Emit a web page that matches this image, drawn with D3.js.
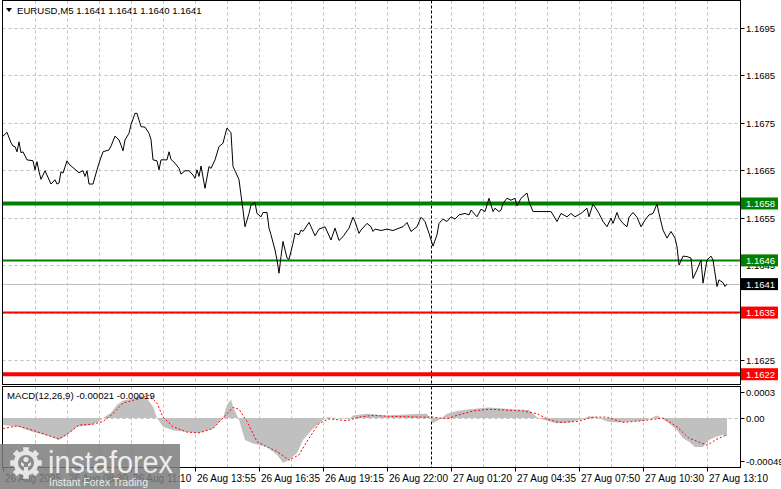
<!DOCTYPE html>
<html><head><meta charset="utf-8">
<script src="https://cdn.jsdelivr.net/npm/d3@7"></script>
<style>body{margin:0;background:#fff}svg{display:block}text{font-family:"Liberation Sans",Arial,sans-serif}</style>
</head><body><svg id="c" width="781" height="489"></svg>
<script>
// ---- data (bar index on M5 chart, close price) ----
const priceIdx=[0,2,4,5,6,7,8,9,10,12,15,16,17,18,19,21,24,26,27,28,29,30,32,33,36,38,40,41,42,43,45,47,48,50,53,54,56,58,59,60,61,63,64,66,67,69,71,73,74,75,77,78,79,82,83,84,86,88,89,91,93,95,96,97,98,99,101,103,104,106,108,110,111,112,114,115,117,118,120,121,123,124,126,127,129,130,132,133,134,136,137,138,139,140,142,143,145,146,148,149,150,153,154,156,158,161,164,166,168,170,173,175,176,178,179,182,184,185,186,189,192,195,198,200,202,204,207,209,211,213,215,217,218,220,222,224,226,228,231,233,234,237,239,241,243,245,246,248,249,250,252,254,256,257,259,262,263,265,268,274,277,279,282,284,286,289,292,293,295,297,298,300,302,304,305,307,308,310,312,313,315,317,319,321,323,325,327,328,330,332,334,336,337,338,340,342,344,345,347,349,350,352,354,355,357,358,360,361,362];
const priceClose=[1.16722,1.16730,1.16708,1.16701,1.16700,1.16689,1.16710,1.16687,1.16689,1.16672,1.16670,1.16651,1.16668,1.16647,1.16631,1.16649,1.16621,1.16630,1.16621,1.16623,1.16647,1.16644,1.16670,1.16663,1.16652,1.16645,1.16649,1.16637,1.16649,1.16621,1.16621,1.16651,1.16665,1.16689,1.16693,1.16701,1.16722,1.16714,1.16703,1.16691,1.16714,1.16728,1.16746,1.16770,1.16770,1.16742,1.16741,1.16728,1.16715,1.16672,1.16670,1.16651,1.16672,1.16672,1.16689,1.16673,1.16665,1.16654,1.16642,1.16649,1.16649,1.16640,1.16633,1.16651,1.16637,1.16659,1.16612,1.16658,1.16654,1.16672,1.16700,1.16707,1.16724,1.16739,1.16729,1.16658,1.16640,1.16630,1.16566,1.16531,1.16559,1.16577,1.16582,1.16559,1.16552,1.16561,1.16561,1.16528,1.16514,1.16482,1.16461,1.16433,1.16468,1.16500,1.16465,1.16462,1.16496,1.16517,1.16514,1.16524,1.16521,1.16540,1.16531,1.16512,1.16526,1.16531,1.16503,1.16528,1.16502,1.16510,1.16528,1.16551,1.16542,1.16517,1.16524,1.16538,1.16531,1.16521,1.16526,1.16523,1.16526,1.16523,1.16528,1.16531,1.16540,1.16521,1.16531,1.16551,1.16542,1.16517,1.16490,1.16514,1.16538,1.16547,1.16542,1.16552,1.16547,1.16556,1.16559,1.16556,1.16566,1.16552,1.16568,1.16563,1.16591,1.16563,1.16570,1.16563,1.16566,1.16580,1.16591,1.16587,1.16591,1.16575,1.16591,1.16602,1.16584,1.16563,1.16563,1.16563,1.16542,1.16559,1.16552,1.16559,1.16552,1.16559,1.16570,1.16552,1.16579,1.16566,1.16559,1.16542,1.16531,1.16549,1.16538,1.16561,1.16549,1.16538,1.16531,1.16551,1.16561,1.16551,1.16531,1.16545,1.16556,1.16559,1.16579,1.16559,1.16524,1.16507,1.16521,1.16507,1.16489,1.16450,1.16469,1.16468,1.16465,1.16422,1.16440,1.16461,1.16412,1.16461,1.16469,1.16461,1.16405,1.16419,1.16413,1.16405,1.16410];

const macdIdx=[0,8,15,24,28,32,37,44,48,50,54,57,60,65,68,72,75,77,80,85,92,98,105,110,112,114,115,117,118,121,125,132,137,140,143,147,150,155,160,162,173,175,182,192,208,212,215,218,222,227,233,243,248,263,267,270,277,283,290,293,297,302,307,313,320,325,327,329,333,337,340,343,346,350,353,357,360,362];
const macdVal=[-0.00008,-0.00010,-0.00016,-0.00021,-0.00025,-0.00019,-0.00010,-0.00008,-0.00004,0,0.00006,0.00015,0.00020,0.00022,0.00026,0.00022,0.00013,0,-0.00010,-0.00014,-0.00016,-0.00017,-0.00012,0,0.00015,0.00021,0.00013,0.00003,-0.00002,-0.00025,-0.00029,-0.00033,-0.00042,-0.00051,-0.00048,-0.00040,-0.00025,-0.00012,-0.00002,0.00001,-0.00001,0.00003,0.00005,0.00003,0.00005,0.00005,-0.00006,-0.00002,0.00005,0.00008,0.00010,0.00012,0.00011,0.00009,0.00001,-0.00002,-0.00006,-0.00005,-0.00001,0.00002,0.00001,-0.00004,-0.00005,-0.00004,-0.00003,0.00001,0.00003,0,-0.00006,-0.00014,-0.00023,-0.00027,-0.00033,-0.00033,-0.00025,-0.00021,-0.00019,-0.00021];
const signalIdx=[0,7,15,24,28,33,38,45,50,55,60,68,73,77,80,85,92,98,105,110,115,118,122,127,132,137,143,148,153,158,163,172,178,185,192,210,215,222,227,235,243,260,267,273,278,287,295,302,310,320,330,337,343,352,357,362];
const signalVal=[-0.00012,-0.00009,-0.00014,-0.00021,-0.00024,-0.00017,-0.00008,-0.00007,-0.00004,0.00005,0.00017,0.00022,0.00026,0.00017,0.00001,-0.00010,-0.00016,-0.00017,-0.00012,0,0.00012,0.00010,-0.00004,-0.00027,-0.00033,-0.00038,-0.00048,-0.00042,-0.00023,-0.00006,-0.00001,-0.00003,0.00001,0.00003,0.00002,0.00001,0.00001,-0.00001,0.00003,0.00008,0.00010,0.00008,0.00005,-0.00002,-0.00005,-0.00004,0.00001,0.00001,-0.00005,-0.00003,0,-0.00010,-0.00023,-0.00031,-0.00024,-0.00019];

const timeLabels=["26 Aug 2025","26 Aug 08:30","26 Aug 11:10","26 Aug 13:55","26 Aug 16:35","26 Aug 19:15","26 Aug 22:00","27 Aug 01:20","27 Aug 04:35","27 Aug 07:50","27 Aug 10:30","27 Aug 13:10"];
const timeLabelIdx=[0,32,64,96,128,160,192,224,256,288,320,352];
const priceTicks=[1.1695,1.1685,1.1675,1.1665,1.1655,1.1645,1.1635,1.1625];
const macdTicks=[0.0003,0,-0.00049];
const macdTickText=["0.0003","0.00","-0.00049"];
const levelValues=[1.1658,1.1646,1.1635,1.1622];
const levelColors=["#008000","#008000","#ff0000","#ff0000"];
const levelWidths=[4,2,2,4];
const currentPrice=1.1641;
const daySeparatorIdx=214;
const titleText="EURUSD,M5  1.1641 1.1641 1.1640 1.1641";
const macdTitle="MACD(12,26,9) -0.00021 -0.00019";

// ---- layout ----
const L=2.5,R=740.5,T=0.5,MB=384.5,MT=386.5,BB=467.5;
const svg=d3.select("#c");
svg.append("rect").attr("width",781).attr("height",489).attr("fill","#fff");
const x=d3.scaleLinear().domain([0,368.5]).range([3,740]);
const y=d3.scaleLinear().domain([1.1625,1.1695]).range([360,28]);
const yM=d3.scaleLinear().domain([-0.00049,0.0003]).range([461,391.7]);

const defs=svg.append("defs");
defs.append("clipPath").attr("id","cm").append("rect").attr("x",L).attr("y",T).attr("width",R-L).attr("height",MB-T);
defs.append("clipPath").attr("id","cd").append("rect").attr("x",L).attr("y",MT).attr("width",R-L).attr("height",BB-MT);

const grid="#c0c0c0";
// vertical grid
const vg=d3.range(16,368,16);
[[T,MB],[MT,BB]].forEach(([a,b])=>{
  svg.append("g").selectAll("line").data(vg).join("line")
    .attr("x1",d=>Math.round(x(d))+0.5).attr("x2",d=>Math.round(x(d))+0.5)
    .attr("y1",a).attr("y2",b).attr("stroke",grid).attr("stroke-dasharray","3,3");
});
// horizontal grid
svg.append("g").selectAll("line").data(priceTicks).join("line")
  .attr("x1",L).attr("x2",R).attr("y1",d=>Math.round(y(d))+0.5).attr("y2",d=>Math.round(y(d))+0.5)
  .attr("stroke",grid).attr("stroke-dasharray","3,3");
svg.append("line").attr("x1",L).attr("x2",R).attr("y1",Math.round(yM(0))+0.5).attr("y2",Math.round(yM(0))+0.5)
  .attr("stroke",grid).attr("stroke-dasharray","3,3");

// day separator
const sx=Math.round(x(daySeparatorIdx))+0.5;
[[T,MB],[MT,BB]].forEach(([a,b])=>svg.append("line").attr("x1",sx).attr("x2",sx).attr("y1",a).attr("y2",b)
  .attr("stroke","#000").attr("stroke-dasharray","3,2"));

// current price line
svg.append("line").attr("x1",L).attr("x2",R).attr("y1",Math.round(y(currentPrice))+0.5).attr("y2",Math.round(y(currentPrice))+0.5).attr("stroke","#c0c0c0");
// levels
svg.append("g").attr("clip-path","url(#cm)").selectAll("line").data(levelValues).join("line")
  .attr("x1",L).attr("x2",R).attr("y1",d=>y(d)).attr("y2",d=>y(d))
  .attr("stroke",(d,i)=>levelColors[i]).attr("stroke-width",(d,i)=>levelWidths[i]);

// price line
const pts=priceIdx.map((d,i)=>[d,priceClose[i]]);
svg.append("path").attr("clip-path","url(#cm)").datum(pts)
  .attr("d",d3.line().x(d=>x(d[0])).y(d=>y(d[1])))
  .attr("fill","none").attr("stroke","#000").attr("stroke-width",1);

// MACD histogram
const hp=macdIdx.map((d,i)=>[d,macdVal[i]]);
svg.append("path").attr("clip-path","url(#cd)").datum(hp)
  .attr("d",d3.area().x(d=>x(d[0])).y0(yM(0)).y1(d=>yM(d[1])))
  .attr("fill","#c0c0c0");
const sp=signalIdx.map((d,i)=>[d,signalVal[i]]);
svg.append("path").attr("clip-path","url(#cd)").datum(sp)
  .attr("d",d3.line().x(d=>x(d[0])).y(d=>yM(d[1])))
  .attr("fill","none").attr("stroke","#ff0000").attr("stroke-width",1).attr("stroke-dasharray","2,2");

// frames
svg.append("rect").attr("x",L).attr("y",T).attr("width",R-L).attr("height",MB-T).attr("fill","none").attr("stroke","#000");
svg.append("rect").attr("x",L).attr("y",MT).attr("width",R-L).attr("height",BB-MT).attr("fill","none").attr("stroke","#000");

// right price axis
const ay=svg.append("g");
priceTicks.forEach(t=>{
  const yy=Math.round(y(t))+0.5;
  ay.append("line").attr("x1",R).attr("x2",R+4).attr("y1",yy).attr("y2",yy).attr("stroke","#000");
  ay.append("text").attr("x",746).attr("y",yy+3.5).attr("font-size",9.5).attr("fill","#000").text(t.toFixed(4));
});
macdTicks.forEach((t,i)=>{
  const yy=Math.round(yM(t))+0.5;
  ay.append("line").attr("x1",R).attr("x2",R+4).attr("y1",yy).attr("y2",yy).attr("stroke","#000");
  ay.append("text").attr("x",746).attr("y",yy+3.5).attr("font-size",9.5).attr("fill","#000").text(macdTickText[i]);
});
// level label boxes
const boxes=levelValues.map((v,i)=>({v,c:levelColors[i]})).concat([{v:currentPrice,c:"#000"}]);
boxes.forEach(b=>{
  const yy=y(b.v);
  ay.append("rect").attr("x",741).attr("y",yy-6).attr("width",37).attr("height",12).attr("fill",b.c);
  ay.append("text").attr("x",746).attr("y",yy+3.5).attr("font-size",9.5).attr("fill","#fff").text(b.v.toFixed(4));
});

// time axis
timeLabelIdx.forEach((ix,i)=>{
  const xx=Math.round(x(ix))+0.5;
  svg.append("line").attr("x1",xx).attr("x2",xx).attr("y1",BB).attr("y2",BB+4).attr("stroke","#000");
  svg.append("text").attr("x",xx+1.5).attr("y",482).attr("font-size",10).attr("fill","#000").text(timeLabels[i]);
});

// titles
svg.append("path").attr("d","M6,8 L12,8 L9,12 Z").attr("fill","#000");
svg.append("text").attr("x",17).attr("y",14).attr("font-size",9.6).attr("fill","#000").text(titleText);
svg.append("text").attr("x",7).attr("y",399).attr("font-size",9.6).attr("fill","#000").text(macdTitle);

// watermark
const wm=svg.append("g");
wm.append("rect").attr("x",0).attr("y",444).attr("width",180).attr("height",45).attr("fill","#7d7d7d").attr("opacity",0.85);
const cx=26,cy=463;
const gear=[];
for(let k=0;k<16;k++){
  const a0=k*Math.PI/8;
  const r=(k%2===0)?16:12.5;
  gear.push([cx+r*Math.cos(a0-0.18),cy+r*Math.sin(a0-0.18)]);
  gear.push([cx+r*Math.cos(a0+0.18),cy+r*Math.sin(a0+0.18)]);
}
wm.append("path").attr("d",d3.line()(gear)+"Z").attr("fill","#e6e6e6");
wm.append("circle").attr("cx",cx).attr("cy",cy).attr("r",8).attr("fill","#8a8a8a");
wm.append("circle").attr("cx",cx).attr("cy",cy-3.5).attr("r",2.6).attr("fill","#e6e6e6");
wm.append("path").attr("d",`M${cx-5},${cy-1} L${cx-2},${cy+1} L${cx-2},${cy+8} L${cx+2},${cy+8} L${cx+2},${cy+1} L${cx+5},${cy-1} L${cx+5},${cy+2} L${cx+2},${cy+4} L${cx-2},${cy+4} L${cx-5},${cy+2}Z`).attr("fill","#e6e6e6");
wm.append("text").attr("x",48).attr("y",473).attr("font-size",31).attr("font-family","Lato, 'Open Sans', sans-serif")
  .attr("fill","#ececec").attr("textLength",125).attr("lengthAdjust","spacingAndGlyphs").text("instaforex");
wm.append("text").attr("x",49).attr("y",486).attr("font-size",11.5).attr("fill","#ececec")
  .attr("textLength",99).attr("lengthAdjust","spacingAndGlyphs").text("Instant Forex Trading");
</script></body></html>
